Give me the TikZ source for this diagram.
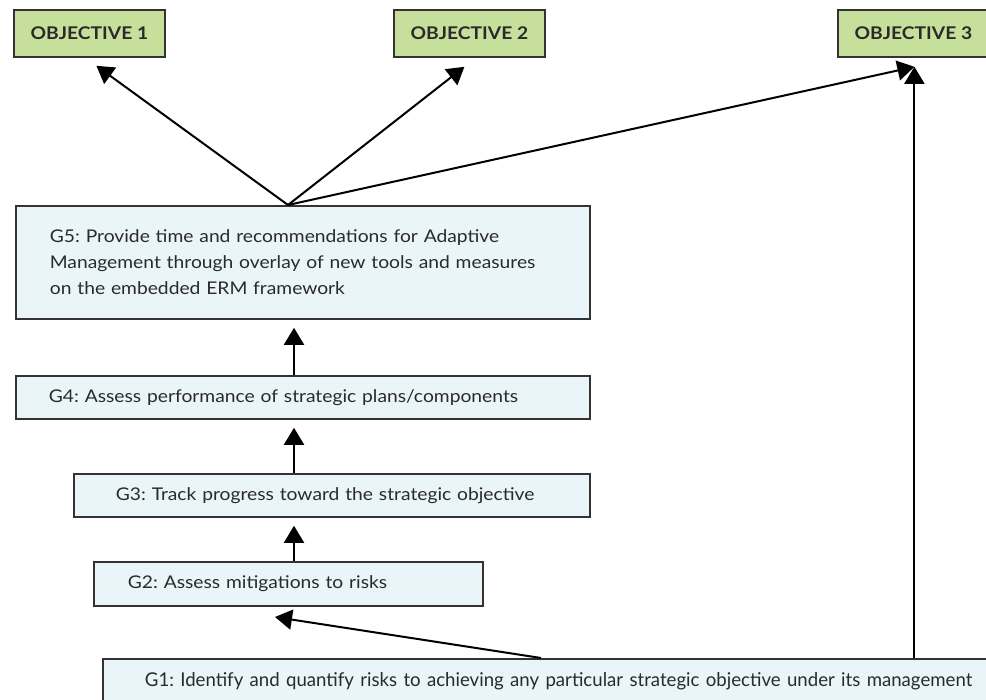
\documentclass[tikz,border=0pt]{standalone}
\usepackage{fontspec}
\setmainfont[FakeStretch=1.1]{Lato}
\newfontfamily\condfont[FakeStretch=0.98]{Lato}
\usetikzlibrary{arrows.meta,calc}
\definecolor{objgreen}{HTML}{C6E09C}
\definecolor{boxblue}{HTML}{E9F5F9}
\definecolor{edgegray}{HTML}{333333}
\definecolor{txtgray}{HTML}{2A2A2A}
\frenchspacing
\begin{document}
\frenchspacing
\begin{tikzpicture}[x=1pt,y=-1pt,
  objbox/.style={draw=edgegray, line width=1.8pt, fill=objgreen, minimum width=151pt,
    minimum height=47pt, font=\bfseries\fontsize{17.5}{20}\selectfont, text=txtgray,
    anchor=north west, inner sep=0pt},
  gbox/.style={draw=edgegray, line width=1.8pt, fill=boxblue, anchor=north west,
    align=left, font=\fontsize{17.5}{26}\selectfont, text=txtgray, inner ysep=0pt},
  arr/.style={draw=black, line width=2pt, -{Triangle[length=17pt,width=20pt]}}]
\clip (0,0) rectangle (986,700);
\fill[white] (0,0) rectangle (986,700);
% objectives
\node[objbox] (obj1) at (13,9) {OBJECTIVE 1};
\node[objbox] (obj2) at (393,9) {OBJECTIVE 2};
\node[objbox] (obj3) at (837,9) {OBJECTIVE 3};
% goals
\node[gbox, inner xsep=34pt, text width=506pt, minimum height=113pt] (g5) at (15,205)
  {G5: Provide time and recommendations for Adaptive\\
   Management through overlay of new tools and measures\\
   on the embedded ERM framework};
\node[gbox, inner xsep=33pt, text width=508pt, minimum height=43pt] (g4) at (15,375)
  {G4: Assess performance of strategic plans/components};
\node[gbox, inner xsep=42pt, text width=432pt, minimum height=43pt] (g3) at (73,473)
  {G3: Track progress toward the strategic objective};
\node[gbox, inner xsep=34pt, text width=321pt, minimum height=44pt] (g2) at (93,561)
  {G2: Assess mitigations to risks};
\node[gbox, inner xsep=42pt, text width=870pt, minimum height=44pt,
  font=\condfont\fontsize{19}{22}\selectfont] (g1) at (102,658)
  {G1: Identify and quantify risks to achieving any particular strategic objective under its management};
% helper coordinates
\coordinate (col) at (294,0);
\coordinate (hub) at (288,0);
\coordinate (g1out) at (541,0);
\coordinate (g2tip) at (275,617);
\coordinate (t1) at ([xshift=7pt,yshift=-8pt]obj1.south);
\coordinate (t2) at ([xshift=-5pt,yshift=-9pt]obj2.south);
\coordinate (t3) at ([xshift=1pt,yshift=-9pt]obj3.south);
% connectors
\draw[arr, shorten >=8pt] (col |- g4.north) -- (col |- g5.south);
\draw[arr, shorten >=8pt] (col |- g3.north) -- (col |- g4.south);
\draw[arr, shorten >=8pt] (col |- g2.north) -- (col |- g3.south);
\draw[arr] (g1out |- g1.north) -- (g2tip);
\draw[arr] (hub |- g5.north) -- (t1);
\draw[arr] (hub |- g5.north) -- (t2);
\draw[arr] (hub |- g5.north) -- (t3);
\draw[arr] (t3 |- g1.north) -- (t3);
\end{tikzpicture}
\end{document}
